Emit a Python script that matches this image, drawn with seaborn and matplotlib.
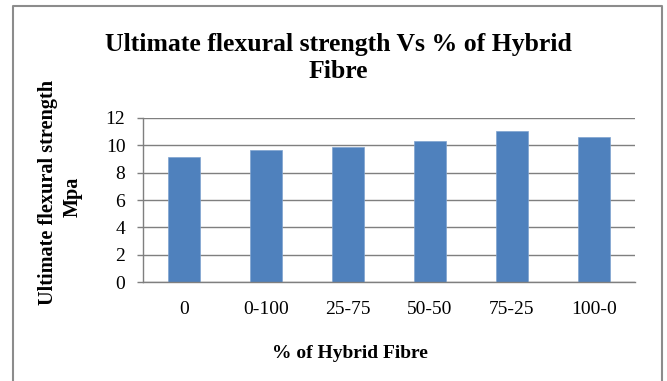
import matplotlib
matplotlib.use("Agg")
import matplotlib.pyplot as plt
import seaborn as sns
import pandas as pd
from matplotlib.lines import Line2D

categories = ["0", "0-100", "25-75", "50-50", "75-25", "100-0"]
strength = [9.11, 9.62, 9.88, 10.32, 11.0, 10.57]
yticks = [0, 2, 4, 6, 8, 10, 12]

title_lines = ["Ultimate flexural strength Vs % of Hybrid", "Fibre"]
ylabel_lines = ["Ultimate flexural strength", "Mpa"]
xlabel = "% of Hybrid Fibre"

sns.set_theme(style="white")
plt.rcParams["font.family"] = ["Liberation Serif", "DejaVu Serif"]

W, H = 667, 381
fig = plt.figure(figsize=(W / 100, H / 100), dpi=100)
ax = fig.add_axes([143 / W, 1 - 282.3 / H, (635 - 143) / W, (282.3 - 117.7) / H])

df = pd.DataFrame({"cat": categories, "val": strength})
sns.barplot(data=df, x="cat", y="val", color="#4F81BD", width=0.4,
            saturation=1, edgecolor="#7FA3D0", linewidth=0.5, ax=ax)

ax.set_xlim(-0.5, len(categories) - 0.5)
ax.set_ylim(0, 12)
ax.set_yticks(yticks)
ax.set_yticklabels([str(t) for t in yticks])
ax.set_xlabel("")
ax.set_ylabel("")
ax.yaxis.grid(True, color="#7f7f7f", linewidth=1.0)
ax.set_axisbelow(True)
for s in ["top", "right"]:
    ax.spines[s].set_visible(False)
for s in ["left", "bottom"]:
    ax.spines[s].set_color("#7f7f7f")
    ax.spines[s].set_linewidth(1.0)
ax.tick_params(axis="y", which="major", left=True, length=4.3, width=1.0,
               color="#7f7f7f", pad=8.4, labelsize=14, labelcolor="black")
ax.tick_params(axis="x", which="major", bottom=False, length=0, pad=13.7,
               labelsize=14, labelcolor="black")

# title
fig.text(338 / W, 1 - 50.7 / H, title_lines[0], ha="center", va="baseline",
         fontsize=18.5, fontweight="bold", color="black")
fig.text(338 / W, 1 - 78.3 / H, title_lines[1], ha="center", va="baseline",
         fontsize=18.5, fontweight="bold", color="black")

# y label (two lines)
fig.text(53 / W, 1 - 192 / H, ylabel_lines[0], rotation=90, rotation_mode="anchor",
         ha="center", va="baseline", fontsize=14.6, fontweight="bold", color="black")
fig.text(77.3 / W, 1 - 197 / H, ylabel_lines[1], rotation=90, rotation_mode="anchor",
         ha="center", va="baseline", fontsize=14.6, fontweight="bold", color="black")

# x label
fig.text(350 / W, 1 - 358.3 / H, xlabel, ha="center", va="baseline",
         fontsize=14, fontweight="bold", color="black")

# outer chart frame (left, top, right)
fx = [12.7 / W, 12.7 / W, 661.5 / W, 661.5 / W]
fy = [-0.05, 1 - 6 / H, 1 - 6 / H, -0.05]
fig.add_artist(Line2D(fx, fy, color="#8c8c8c", linewidth=1.5, transform=fig.transFigure))

fig.savefig("out.png", dpi=100)
